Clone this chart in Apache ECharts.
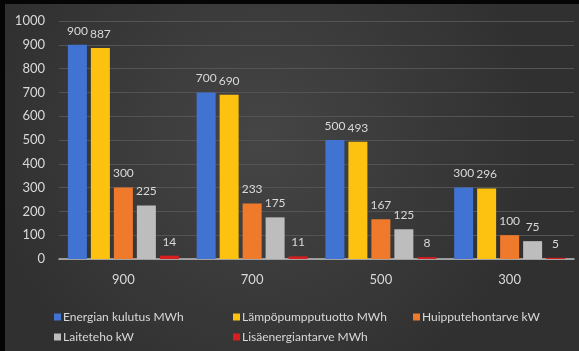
<!DOCTYPE html>
<html>
<head>
<meta charset="utf-8">
<script src="https://cdn.jsdelivr.net/npm/echarts@6/dist/echarts.min.js"></script>
<style>
  html, body { margin: 0; padding: 0; background: #000; }
  #chart { width: 579px; height: 351px; }
</style>
</head>
<body>
<div id="chart"></div>
<script>
// Categories and series values
const categories = ['900', '700', '500', '300'];
const energianKulutus = [900, 700, 500, 300];
const lampopumpputuotto = [887, 690, 493, 296];
const huipputehontarve = [300, 233, 167, 100];
const laiteteho = [225, 175, 125, 75];
const lisaenergiantarve = [14, 11, 8, 5];
const yTicks = [0, 100, 200, 300, 400, 500, 600, 700, 800, 900, 1000];

const seriesNames = [
  'Energian kulutus MWh',
  'Lämpöpumpputuotto MWh',
  'Huipputehontarve kW',
  'Laiteteho kW',
  'Lisäenergiantarve MWh'
];
const seriesData = [energianKulutus, lampopumpputuotto, huipputehontarve, laiteteho, lisaenergiantarve];
const colors = ['#4173d3', '#fdc20f', '#f07a2c', '#bdbdbd', '#d81e1e'];

const textColor = '#d9d9d9';
const font = 'Lato, "Open Sans", sans-serif';

const chart = echarts.init(document.getElementById('chart'));

// One legend component per entry, laid out in two rows of columns
const legendPos = [
  { left: 49, top: 306 },
  { left: 228, top: 306 },
  { left: 408, top: 306 },
  { left: 49, top: 326 },
  { left: 228, top: 326 }
];
const legends = seriesNames.map((name, i) => ({
  data: [name],
  left: legendPos[i].left,
  top: legendPos[i].top,
  icon: 'rect',
  itemWidth: 7,
  itemHeight: 7,
  itemGap: 0,
  selectedMode: false,
  textStyle: { color: textColor, fontSize: 12, fontFamily: font, padding: [0, 0, 0, -3] }
}));

chart.setOption({
  backgroundColor: {
    type: 'radial', x: 0.45, y: 0.4, r: 0.8,
    colorStops: [
      { offset: 0, color: '#454545' },
      { offset: 1, color: '#303030' }
    ]
  },
  graphic: [
    { type: 'rect', left: 0, top: 0, shape: { width: 579, height: 4 }, style: { fill: '#050505' } },
    { type: 'rect', left: 0, top: 0, shape: { width: 5, height: 351 }, style: { fill: '#050505' } }
  ],
  legend: legends,
  grid: { left: 59, right: 5, top: 21, bottom: 92, containLabel: false },
  xAxis: {
    type: 'category',
    data: categories,
    axisLine: { lineStyle: { color: '#bdbdbd', width: 1.5 } },
    axisTick: { show: false },
    axisLabel: { color: textColor, fontSize: 13, fontFamily: font, margin: 14 }
  },
  yAxis: {
    type: 'value',
    min: yTicks[0],
    max: yTicks[yTicks.length - 1],
    interval: yTicks[1] - yTicks[0],
    axisLine: { show: false },
    axisTick: { show: false },
    axisLabel: {
      color: textColor, fontSize: 13, fontFamily: font, margin: 14,
      formatter: (v) => String(v)
    },
    splitLine: { lineStyle: { color: '#545454', width: 1 } }
  },
  series: seriesNames.map((name, i) => ({
    name: name,
    type: 'bar',
    data: seriesData[i],
    barWidth: 19,
    barGap: '21%',
    itemStyle: { color: colors[i] },
    label: {
      show: true,
      position: 'top',
      distance: 8,
      color: textColor,
      fontSize: 12,
      fontFamily: font
    }
  }))
});
</script>
</body>
</html>
